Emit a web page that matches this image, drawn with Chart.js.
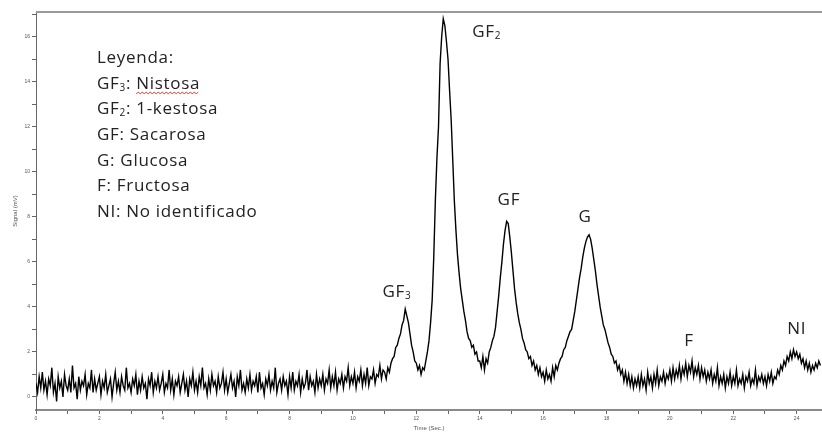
<!DOCTYPE html>
<html>
<head>
<meta charset="utf-8">
<script src="https://cdn.jsdelivr.net/npm/chart.js@4.4.0/dist/chart.umd.min.js"></script>
<style>
html, body { margin: 0; padding: 0; background: #fff; }
#wrap { position: relative; width: 822px; height: 435px; }
</style>
</head>
<body>
<div id="wrap"><canvas id="myChart"></canvas></div>
<script>
// Chromatogram data (signal in mV, one sample every 0.05 time units)
const sampleStep = 0.05;
const signal = [
  0.6,0.2,0.9,0.4,1.1,0.3,0.7,0.1,0.8,0.5,1.3,0.2,0.6,-0.2,0.9,0.4,0.7,0.0,1.0,0.5,
  0.3,0.8,0.2,1.4,0.4,0.6,-0.1,0.9,0.3,0.7,0.5,1.0,0.1,0.6,0.4,1.2,0.2,0.8,0.3,0.6,
  0.9,0.1,0.7,0.4,1.0,0.2,0.5,0.8,0.0,0.6,1.1,0.3,0.7,0.2,0.9,0.5,0.3,1.3,0.4,0.6,
  0.2,0.8,0.5,1.0,0.1,0.7,0.3,0.9,0.4,0.6,-0.1,0.8,0.5,1.1,0.2,0.7,0.4,0.9,0.3,0.6,
  1.0,0.2,0.6,0.4,1.2,0.3,0.8,0.1,0.7,0.5,0.9,0.2,0.6,1.0,0.3,0.7,0.0,0.8,0.5,1.1,
  0.3,0.7,0.2,0.9,0.5,1.3,0.4,0.6,0.1,0.8,0.3,1.0,0.5,0.7,0.2,0.9,0.4,0.6,1.1,0.3,
  0.8,0.2,0.6,1.0,0.4,0.7,0.0,0.9,0.5,1.2,0.3,0.6,0.2,0.8,0.4,1.0,0.3,0.7,0.5,0.9,
  0.2,1.1,0.4,0.6,0.1,0.8,0.5,1.0,0.3,0.7,0.4,1.3,0.2,0.6,0.8,0.3,0.9,0.5,0.7,0.1,
  0.9,0.4,1.1,0.3,0.7,0.5,1.0,0.2,0.8,0.4,0.6,1.2,0.3,0.9,0.5,0.7,0.2,1.0,0.4,0.8,
  0.5,1.0,0.3,0.8,0.6,1.2,0.4,0.9,0.5,1.1,0.3,0.8,0.6,1.0,0.4,0.9,0.7,1.3,0.5,0.9,
  0.6,1.1,0.4,0.9,0.7,1.2,0.5,1.0,0.6,1.3,0.5,0.9,0.8,1.2,0.6,1.0,0.9,1.4,0.8,1.2,
  1.1,0.8,1.3,1.1,1.5,1.7,1.8,2.2,2.3,2.6,2.8,3.2,3.4,3.9,3.6,3.3,2.8,2.3,2.0,1.6,
  1.5,1.2,1.4,1.0,1.3,1.2,1.6,2.0,2.5,3.3,4.3,6.2,8.7,10.6,12.0,14.8,16.0,16.8,16.5,15.8,
  15.0,13.6,12.3,10.5,8.7,7.4,6.3,5.5,4.8,4.3,3.8,3.4,2.9,2.6,2.5,2.2,2.3,1.9,2.0,1.6,
  1.6,1.3,1.8,1.2,1.7,1.5,2.0,2.2,2.5,2.7,3.1,3.8,4.5,5.3,6.0,6.8,7.4,7.8,7.7,7.1,
  6.4,5.6,4.8,4.2,3.7,3.3,3.0,2.6,2.4,2.1,2.0,1.7,1.8,1.4,1.6,1.2,1.4,1.0,1.3,0.9,
  1.1,0.7,1.2,0.8,1.0,0.7,1.3,0.9,1.4,1.2,1.5,1.7,1.8,2.1,2.2,2.5,2.7,2.9,3.0,3.4,
  3.8,4.3,4.8,5.3,5.7,6.2,6.6,6.9,7.1,7.2,7.0,6.6,6.1,5.6,5.0,4.5,4.0,3.6,3.2,3.0,
  2.7,2.4,2.2,1.9,1.8,1.5,1.6,1.2,1.4,1.0,1.2,0.7,1.1,0.6,1.0,0.5,0.9,0.4,0.8,0.5,
  0.9,0.4,1.0,0.5,0.8,0.3,1.1,0.6,0.9,0.4,1.0,0.6,1.2,0.5,0.9,0.7,1.1,0.6,1.0,0.8,
  1.2,0.7,1.3,0.8,1.2,0.9,1.4,0.8,1.3,1.0,1.5,0.9,1.4,1.1,1.6,0.9,1.3,1.0,1.4,0.8,
  1.3,0.9,1.2,0.7,1.1,0.8,1.2,0.6,1.0,0.7,1.3,0.5,0.9,0.6,1.0,0.4,0.9,0.6,1.1,0.5,
  0.9,0.6,1.2,0.5,0.8,0.6,1.0,0.4,0.9,0.7,1.1,0.5,0.8,0.6,1.2,0.5,0.9,0.7,1.0,0.6,
  0.9,0.5,1.0,0.7,1.1,0.6,0.9,0.8,1.2,1.0,1.4,1.2,1.6,1.4,1.8,1.6,2.0,1.7,2.1,1.8,
  2.0,1.7,1.9,1.5,1.7,1.3,1.6,1.2,1.5,1.1,1.4,1.2,1.5,1.3,1.6,1.4
];

// Peak codes, where their labels sit (time, signal) and the legend names
const peakCodes = ['GF3', 'GF2', 'GF', 'G', 'F', 'NI'];
const labelTimes = [11.39, 14.22, 14.92, 17.32, 20.6, 24.0];
const labelLevels = [4.67, 16.2, 8.75, 8.0, 2.5, 3.0];
const peakNames = ['Nistosa', '1-kestosa', 'Sacarosa', 'Glucosa', 'Fructosa', 'No identificado'];
const legendTitle = 'Leyenda:';

const textFont = '17px "Open Sans"';
const subFont = '10px "Open Sans"';
const textColor = '#222';

// split "GF3" into [["GF",0],["3",1]] so the digit is drawn as a subscript
function codeParts(code) {
  const m = code.match(/^([A-Z]+)(\d*)$/);
  const parts = [[m[1], 0]];
  if (m[2]) parts.push([m[2], 1]);
  return parts;
}

function measureParts(ctx, parts) {
  let w = 0;
  parts.forEach(p => { ctx.font = p[1] ? subFont : textFont; w += ctx.measureText(p[0]).width; });
  return w;
}

function drawParts(ctx, parts, x, y) {
  parts.forEach(p => {
    ctx.font = p[1] ? subFont : textFont;
    ctx.fillText(p[0], x, p[1] ? y + 4 : y);
    x += ctx.measureText(p[0]).width;
  });
  return x;
}

function squiggle(ctx, x0, x1, y) {
  ctx.save();
  ctx.letterSpacing = '0px';
  ctx.strokeStyle = '#e0392b';
  ctx.lineWidth = 1;
  ctx.beginPath();
  let up = true;
  ctx.moveTo(x0, y);
  for (let x = x0 + 2; x <= x1; x += 2) {
    ctx.lineTo(x, up ? y - 1.5 : y);
    up = !up;
  }
  ctx.stroke();
  ctx.restore();
}

const annotations = {
  id: 'annotations',
  afterDraw(chart) {
    const ctx = chart.ctx;
    const area = chart.chartArea;
    const xs = chart.scales.x, ys = chart.scales.y;

    // top frame line
    ctx.save();
    ctx.strokeStyle = '#9a9a9a';
    ctx.lineWidth = 2;
    ctx.beginPath();
    ctx.moveTo(area.left, area.top);
    ctx.lineTo(area.right, area.top);
    ctx.stroke();

    ctx.fillStyle = textColor;
    ctx.textBaseline = 'middle';
    ctx.textAlign = 'left';
    ctx.letterSpacing = '0.7px';

    // peak labels
    peakCodes.forEach((code, i) => {
      const parts = codeParts(code);
      const w = measureParts(ctx, parts);
      const px = xs.getPixelForValue(labelTimes[i]);
      const py = ys.getPixelForValue(labelLevels[i]);
      drawParts(ctx, parts, px - w / 2, py);
    });

    // legend block
    const lx = area.left + 61;
    let ly = area.top + 46;
    ctx.font = textFont;
    ctx.fillText(legendTitle, lx, ly);
    peakCodes.forEach((code, i) => {
      ly += 25.7;
      const x = drawParts(ctx, codeParts(code).concat([[':', 0]]), lx, ly);
      ctx.font = textFont;
      const name = ' ' + peakNames[i];
      ctx.fillText(name, x, ly);
      if (i === 0) {
        const sw = ctx.measureText(' ').width;
        squiggle(ctx, x + sw, x + ctx.measureText(name).width, ly + 10);
      }
    });
    ctx.restore();
  }
};

const points = signal.map((v, i) => ({ x: i * sampleStep, y: v }));

const ctx = document.getElementById('myChart');
const myChart = new Chart(ctx, {
  type: 'line',
  data: {
    datasets: [{
      data: points,
      borderColor: '#000',
      borderWidth: 1.4,
      pointRadius: 0,
      tension: 0,
      fill: false
    }]
  },
  options: {
    responsive: true,
    maintainAspectRatio: false,
    animation: false,
    layout: { padding: { top: 12, right: 0, bottom: 0, left: 0 }, autoPadding: false },
    plugins: {
      legend: { display: false },
      tooltip: { enabled: false }
    },
    scales: {
      x: {
        type: 'linear',
        min: 0,
        max: 24.8,
        afterFit: s => { s.height = 25; },
        ticks: {
          stepSize: 1,
          includeBounds: false,
          autoSkip: false,
          maxRotation: 0,
          padding: 2,
          font: { size: 5, family: 'Liberation Sans' },
          color: '#555',
          callback: v => (Math.round(v) % 2 === 0 ? v : '')
        },
        grid: { drawOnChartArea: false, tickLength: 4, tickColor: '#666' },
        border: { display: true, color: '#8a8a8a', width: 2 },
        title: {
          display: true,
          text: 'Time (Sec.)',
          font: { size: 6, family: 'Liberation Sans' },
          color: '#555',
          padding: { top: 0, bottom: 3 }
        }
      },
      y: {
        min: -0.58,
        max: 17.1,
        afterFit: s => { s.width = 36; },
        ticks: {
          stepSize: 1,
          includeBounds: false,
          autoSkip: false,
          padding: 2,
          font: { size: 5, family: 'Liberation Sans' },
          color: '#555',
          callback: v => (Math.round(v) % 2 === 0 ? v : '')
        },
        grid: { drawOnChartArea: false, tickLength: 4, tickColor: '#666' },
        border: { display: true, color: '#666', width: 1 },
        title: {
          display: true,
          text: 'Signal (mV)',
          font: { size: 6, family: 'Liberation Sans' },
          color: '#555',
          padding: { top: 12, bottom: 0 }
        }
      }
    }
  },
  plugins: [annotations]
});
</script>
</body>
</html>
